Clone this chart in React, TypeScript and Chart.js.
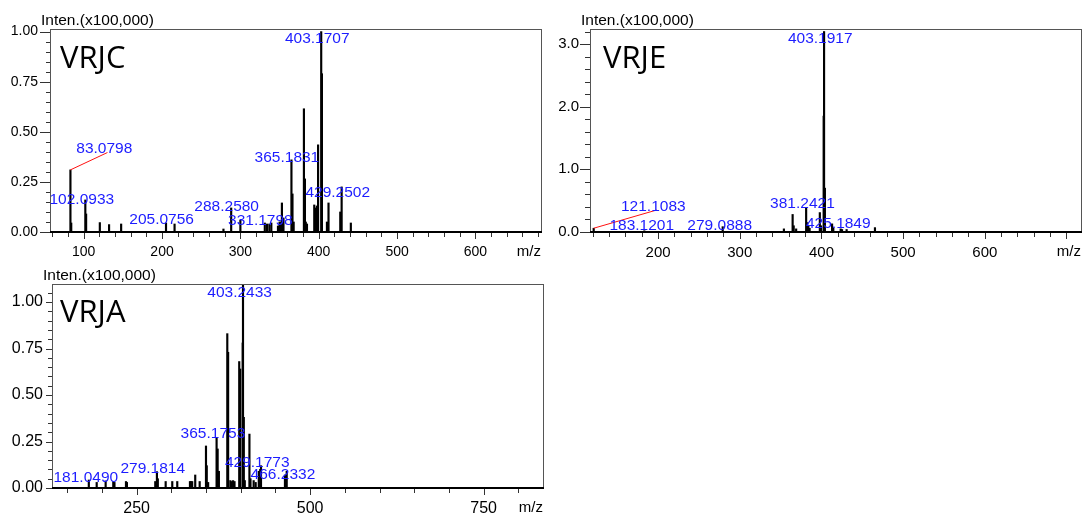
import React, { useEffect, useRef } from "react";
import { Chart, registerables } from "chart.js";
Chart.register(...registerables);

// ---------- VRJC ----------
const vrjcMz = [83.08, 84.1, 102.09, 103.1, 120.6, 132.4, 147.8, 205.08, 216.0, 278.4, 288.26, 300.0, 331.18, 334.0, 337.0, 339.5, 348.0, 350.0, 351.5, 353.0, 355.0, 365.18, 366.5, 368.0, 381.1, 382.4, 383.5, 385.0, 394.3, 395.5, 397.7, 399.2, 403.17, 404.1, 410.5, 412.5, 427.5, 429.25, 441.0];
const vrjcInt = [0.31, 0.045, 0.16, 0.09, 0.047, 0.037, 0.04, 0.045, 0.04, 0.015, 0.12, 0.06, 0.045, 0.04, 0.04, 0.045, 0.03, 0.05, 0.05, 0.145, 0.07, 0.36, 0.19, 0.05, 0.615, 0.265, 0.05, 0.04, 0.135, 0.12, 0.13, 0.435, 1.0, 0.79, 0.05, 0.145, 0.1, 0.225, 0.045];
const vrjcXTicks = [100, 200, 300, 400, 500, 600];
const vrjcYTicks = [0, 0.25, 0.5, 0.75, 1.0];
const vrjcLabelText = ["83.0798", "102.0933", "205.0756", "288.2580", "331.1798", "365.1831", "403.1707", "429.2502"];
const vrjcLabelMz = [126.3, 97.6, 199.5, 282.5, 325.5, 359.4, 398.1, 424.3];
const vrjcLabelInt = [0.3965, 0.1385, 0.04, 0.105, 0.035, 0.3485, 0.9435, 0.1765];
const vrjcLeader = [83.08, 0.31, 130.3, 0.3965];

// ---------- VRJE ----------
const vrjeMz = [121.11, 183.12, 279.09, 354.0, 364.7, 366.0, 369.0, 381.24, 382.5, 384.0, 385.5, 398.0, 399.5, 402.7, 403.19, 404.2, 413.0, 414.5, 423.5, 425.18, 430.8, 465.5];
const vrjeInt = [0.06, 0.02, 0.085, 0.05, 0.28, 0.1, 0.05, 0.38, 0.15, 0.1, 0.06, 0.31, 0.1, 1.85, 3.2, 0.7, 0.13, 0.07, 0.05, 0.04, 0.04, 0.07];
const vrjeXTicks = [200, 300, 400, 500, 600];
const vrjeYTicks = [0, 1, 2, 3];
const vrjeLabelText = ["121.1083", "183.1201", "279.0888", "381.2421", "403.1917", "425.1849"];
const vrjeLabelMz = [194.1, 180.0, 275.4, 376.7, 398.5, 420.6];
const vrjeLabelInt = [0.335, 0.032, 0.032, 0.379, 3.014, 0.059];
const vrjeLeader = [121.11, 0.06, 198.3, 0.351];

// ---------- VRJA ----------
const vrjaMz = [181.05, 192.4, 205.3, 216.3, 218.0, 234.6, 236.0, 276.8, 279.18, 280.5, 291.8, 301.3, 308.5, 326.8, 328.2, 330.0, 334.4, 340.8, 349.9, 351.0, 353.0, 365.18, 366.7, 368.5, 380.6, 381.8, 385.0, 387.0, 389.0, 391.0, 397.8, 399.2, 402.8, 403.24, 404.4, 405.8, 412.5, 414.0, 418.6, 421.5, 426.0, 428.0, 429.18, 463.7, 466.23];
const vrjaInt = [0.043, 0.03, 0.038, 0.035, 0.03, 0.035, 0.03, 0.035, 0.088, 0.05, 0.035, 0.035, 0.035, 0.035, 0.035, 0.035, 0.07, 0.035, 0.226, 0.12, 0.03, 0.27, 0.21, 0.09, 0.83, 0.73, 0.04, 0.035, 0.04, 0.035, 0.68, 0.64, 0.78, 1.2, 0.38, 0.04, 0.29, 0.05, 0.04, 0.03, 0.09, 0.1, 0.12, 0.07, 0.09];
const vrjaXTicks = [250, 500, 750];
const vrjaYTicks = [0, 0.25, 0.5, 0.75, 1.0];
const vrjaLabelText = ["181.0490", "279.1814", "365.1753", "403.2433", "429.1773", "466.2332"];
const vrjaLabelMz = [176.7, 273.2, 359.9, 398.4, 423.8, 460.8];
const vrjaLabelInt = [0.034, 0.0825, 0.2675, 1.025, 0.115, 0.047];

const BLUE = "#1c1cff";
const SANS = "'Liberation Sans', Arial, sans-serif";

type PanelCfg = {
  name: string;
  left: number; top: number; w: number; h: number;
  padTop: number; padRight: number; yWidth: number; xHeight: number;
  xMin: number; xMax: number; xMajor: number; xMinor: number;
  yMax: number; yMajor: number; yMinor: number; yDec: number;
  xTicks: number[]; yTicks: number[];
  yMajorLen: number; yMinorLen: number;
  tickFont: number; yPad: number; xPad: number;
  titleDx: number; titleDy: number;
  mz: number[]; inten: number[];
  lt: string[]; lmz: number[]; lint: number[];
  leader: number[] | null;
};

const panels: PanelCfg[] = [
  {
    name: "VRJC", left: 0, top: 0, w: 545, h: 262,
    padTop: 29, padRight: 3, yWidth: 50, xHeight: 30,
    xMin: 57, xMax: 685, xMajor: 100, xMinor: 20,
    yMax: 1.013, yMajor: 0.25, yMinor: 0.05, yDec: 2,
    xTicks: vrjcXTicks, yTicks: vrjcYTicks,
    yMajorLen: 10, yMinorLen: 4, tickFont: 14, yPad: 12, xPad: 12,
    titleDx: 10, titleDy: 39,
    mz: vrjcMz, inten: vrjcInt, lt: vrjcLabelText, lmz: vrjcLabelMz, lint: vrjcLabelInt, leader: vrjcLeader,
  },
  {
    name: "VRJE", left: 545, top: 0, w: 540, h: 262,
    padTop: 29, padRight: 3, yWidth: 45, xHeight: 30,
    xMin: 116.6, xMax: 719, xMajor: 100, xMinor: 20,
    yMax: 3.24, yMajor: 1.0, yMinor: 0.2, yDec: 1,
    xTicks: vrjeXTicks, yTicks: vrjeYTicks,
    yMajorLen: 10, yMinorLen: 5, tickFont: 15, yPad: 11, xPad: 12,
    titleDx: 13, titleDy: 39,
    mz: vrjeMz, inten: vrjeInt, lt: vrjeLabelText, lmz: vrjeLabelMz, lint: vrjeLabelInt, leader: vrjeLeader,
  },
  {
    name: "VRJA", left: 0, top: 262, w: 548, h: 254,
    padTop: 22, padRight: 4, yWidth: 52, xHeight: 28,
    xMin: 128, xMax: 837, xMajor: 250, xMinor: 50,
    yMax: 1.097, yMajor: 0.25, yMinor: 0.05, yDec: 2,
    xTicks: vrjaXTicks, yTicks: vrjaYTicks,
    yMajorLen: 6, yMinorLen: 4, tickFont: 16, yPad: 9, xPad: 11,
    titleDx: 8, titleDy: 38,
    mz: vrjaMz, inten: vrjaInt, lt: vrjaLabelText, lmz: vrjaLabelMz, lint: vrjaLabelInt, leader: null,
  },
];

function decorPlugin(p: PanelCfg) {
  return {
    id: "decor" + p.name,
    afterDatasetsDraw(chart: any) {
      const { ctx, chartArea: a, scales } = chart;
      const x = scales.x, y = scales.y;
      ctx.save();
      // ticks
      ctx.strokeStyle = "#333";
      ctx.lineWidth = 1;
      ctx.beginPath();
      const xs = Math.ceil(p.xMin / p.xMinor - 1e-9);
      for (let k = xs; k * p.xMinor <= p.xMax + 1e-9; k++) {
        const v = k * p.xMinor;
        const major = Math.abs(v / p.xMajor - Math.round(v / p.xMajor)) < 1e-6;
        const px = Math.round(x.getPixelForValue(v)) + 0.5;
        ctx.moveTo(px, a.bottom);
        ctx.lineTo(px, a.bottom + (major ? 7 : 5));
      }
      for (let k = 0; k * p.yMinor <= p.yMax + 1e-9; k++) {
        const v = k * p.yMinor;
        const major = Math.abs(v / p.yMajor - Math.round(v / p.yMajor)) < 1e-6;
        const py = Math.round(y.getPixelForValue(v)) + 0.5;
        ctx.moveTo(a.left, py);
        ctx.lineTo(a.left - (major ? p.yMajorLen : p.yMinorLen), py);
      }
      ctx.stroke();
      // frame
      ctx.strokeStyle = "#555";
      ctx.lineWidth = 1;
      ctx.strokeRect(a.left + 0.5, a.top + 0.5, a.right - a.left - 1, a.bottom - a.top);
      ctx.strokeStyle = "#000";
      ctx.lineWidth = 2;
      ctx.beginPath();
      ctx.moveTo(a.left, a.bottom);
      ctx.lineTo(a.right, a.bottom);
      ctx.stroke();
      // leader
      if (p.leader) {
        ctx.strokeStyle = "#ff1010";
        ctx.lineWidth = 1;
        ctx.beginPath();
        ctx.moveTo(x.getPixelForValue(p.leader[0]), y.getPixelForValue(p.leader[1]));
        ctx.lineTo(x.getPixelForValue(p.leader[2]), y.getPixelForValue(p.leader[3]));
        ctx.stroke();
      }
      // peak labels
      ctx.fillStyle = BLUE;
      ctx.font = `15.5px ${SANS}`;
      ctx.textAlign = "center";
      ctx.textBaseline = "alphabetic";
      p.lt.forEach((t, i) => {
        ctx.fillText(t, x.getPixelForValue(p.lmz[i]), y.getPixelForValue(p.lint[i]));
      });
      // axis captions
      ctx.fillStyle = "#000";
      ctx.textAlign = "left";
      ctx.font = `15.5px ${SANS}`;
      ctx.fillText("Inten.(x100,000)", a.left - 9, a.top - 4);
      ctx.textAlign = "right";
      ctx.font = `15px ${SANS}`;
      ctx.fillText("m/z", a.right - 1, a.bottom + 24);
      // title
      ctx.textAlign = "left";
      ctx.font = `31px 'Open Sans', sans-serif`;
      ctx.fillText(p.name, a.left + p.titleDx, a.top + p.titleDy);
      ctx.restore();
    },
  };
}

function Panel({ p }: { p: PanelCfg }) {
  const ref = useRef<HTMLCanvasElement | null>(null);
  useEffect(() => {
    if (!ref.current) return;
    const chart = new Chart(ref.current, {
      type: "bar",
      data: {
        datasets: [
          {
            data: p.mz.map((m, i) => ({ x: m, y: p.inten[i] })),
            backgroundColor: "#000",
            borderWidth: 0,
            barThickness: 1.5,
            grouped: false,
          } as any,
        ],
      },
      options: {
        responsive: false,
        maintainAspectRatio: false,
        animation: false,
        events: [],
        layout: { padding: { left: 0, top: p.padTop, right: p.padRight, bottom: 0 } },
        plugins: { legend: { display: false }, tooltip: { enabled: false } },
        scales: {
          x: {
            type: "linear",
            min: p.xMin,
            max: p.xMax,
            offset: false,
            grid: { display: false, drawTicks: false, offset: false },
            border: { display: false },
            ticks: {
              autoSkip: false,
              maxRotation: 0,
              padding: p.xPad,
              color: "#000",
              font: { family: SANS, size: p.tickFont },
              callback: (v: any) => String(v),
            },
            afterBuildTicks: (s: any) => { s.ticks = p.xTicks.map((v) => ({ value: v })); },
            afterFit: (s: any) => { s.height = p.xHeight; s.paddingLeft = 0; s.paddingRight = 0; },
          },
          y: {
            type: "linear",
            min: 0,
            max: p.yMax,
            grid: { display: false, drawTicks: false },
            border: { display: false },
            ticks: {
              autoSkip: false,
              padding: p.yPad,
              color: "#000",
              font: { family: SANS, size: p.tickFont },
              callback: (v: any) => Number(v).toFixed(p.yDec),
            },
            afterBuildTicks: (s: any) => { s.ticks = p.yTicks.map((v) => ({ value: v })); },
            afterFit: (s: any) => { s.width = p.yWidth; },
          },
        },
      } as any,
      plugins: [decorPlugin(p)],
    });
    return () => chart.destroy();
  }, []);
  return (
    <canvas
      ref={ref}
      width={p.w}
      height={p.h}
      style={{ position: "absolute", left: p.left, top: p.top, width: p.w, height: p.h }}
    />
  );
}

export default function App() {
  return (
    <div style={{ position: "absolute", left: 0, top: 0, width: 1085, height: 516, background: "#fff", overflow: "hidden" }}>
      {panels.map((p) => (
        <Panel key={p.name} p={p} />
      ))}
    </div>
  );
}
